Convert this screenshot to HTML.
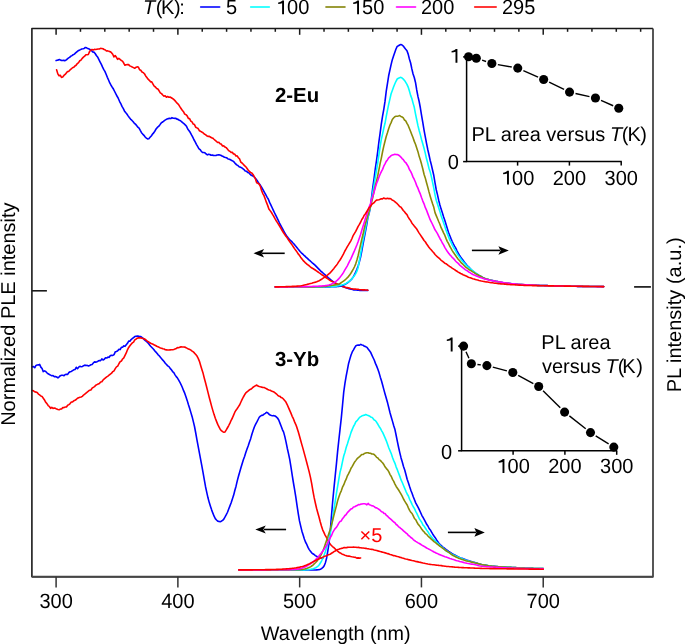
<!DOCTYPE html>
<html><head><meta charset="utf-8"><style>
html,body{margin:0;padding:0;background:#fff;width:685px;height:644px;overflow:hidden}
svg{display:block;will-change:transform;text-rendering:geometricPrecision}
.t{font-family:"Liberation Sans",sans-serif;font-size:20px;fill:#000}
.s{font-family:"Liberation Sans",sans-serif;font-size:20px;fill:#000}
.b{font-family:"Liberation Sans",sans-serif;font-size:20.4px;font-weight:bold;fill:#000}
</style></head><body>
<svg width="685" height="644" viewBox="0 0 685 644">
<path d="M56.10 60.59L57.32 60.24L58.54 59.89L59.76 59.56L60.98 60.36L62.20 60.43L63.42 60.31L64.64 60.64L65.86 60.18L67.08 59.25L68.30 58.13L69.52 57.40L70.74 56.29L71.96 55.64L73.18 54.73L74.40 54.09L75.62 52.94L76.84 51.84L78.06 50.79L79.28 50.20L80.50 49.62L81.72 48.94L82.94 48.82L84.16 48.42L85.38 47.43L86.60 47.82L87.82 48.58L89.04 48.92L90.26 49.71L91.48 50.55L92.70 51.93L93.92 52.13L95.14 53.48L96.36 55.48L97.58 56.93L98.80 59.37L100.02 61.77L101.24 64.07L102.46 66.92L103.68 69.30L104.90 71.43L106.12 74.22L107.34 77.30L108.56 80.04L109.78 82.94L111.00 85.22L112.22 87.20L113.44 89.05L114.66 91.50L115.88 93.95L117.10 96.26L118.32 98.44L119.54 101.29L120.76 103.54L121.98 106.41L123.20 108.31L124.42 110.92L125.64 112.58L126.86 114.02L128.08 115.89L129.30 117.53L130.52 119.09L131.74 120.19L132.96 121.47L134.18 123.04L135.40 124.12L136.62 125.60L137.84 127.13L139.06 128.12L140.28 130.48L141.50 132.67L142.72 134.08L143.94 135.34L145.16 137.00L146.38 138.03L147.60 138.96L148.82 138.72L150.04 137.34L151.26 135.93L152.48 134.17L153.70 132.86L154.92 131.00L156.14 128.87L157.36 127.43L158.58 126.43L159.80 124.90L161.02 123.22L162.24 122.23L163.46 121.34L164.68 120.39L165.90 119.66L167.12 118.94L168.34 118.59L169.56 118.38L170.78 118.58L172.00 117.67L173.22 118.17L174.44 118.33L175.66 118.27L176.88 119.14L178.10 119.39L179.32 120.30L180.54 120.74L181.76 121.79L182.98 122.92L184.20 123.89L185.42 125.05L186.64 126.59L187.86 129.25L189.08 130.71L190.30 132.55L191.52 134.97L192.74 137.21L193.96 139.77L195.18 141.89L196.40 144.33L197.62 146.43L198.84 148.55L200.06 149.56L201.28 151.23L202.50 152.49L203.72 152.53L204.94 152.84L206.16 154.03L207.38 154.85L208.60 154.25L209.82 154.46L211.04 155.20L212.26 155.10L213.48 155.39L214.70 155.51L215.92 155.57L217.14 154.96L218.36 154.88L219.58 154.91L220.80 155.27L222.02 156.08L223.24 156.54L224.46 157.25L225.68 157.42L226.90 157.88L228.12 159.01L229.34 159.18L230.56 159.78L231.78 160.58L233.00 161.12L234.22 162.15L235.44 163.64L236.66 164.91L237.88 165.53L239.10 166.78L240.32 167.11L241.54 167.70L242.76 168.56L243.98 169.56L245.20 170.97L246.42 171.17L247.64 172.41L248.86 172.74L250.08 174.18L251.30 175.30L252.52 175.83L253.74 176.54L254.96 177.73L256.18 179.20L257.40 180.91L258.62 183.11L259.84 184.55L261.06 186.33L262.28 188.50L263.50 190.63L264.72 192.83L265.94 195.00L267.16 197.33L268.38 199.24L269.60 202.40L270.82 204.83L272.04 207.49L273.26 210.18L274.48 212.73L275.70 215.17L276.92 217.63L278.14 220.06L279.36 222.78L280.58 225.14L281.80 227.38L283.02 229.72L284.24 232.03L285.46 234.05L286.68 236.00L287.90 237.56L289.12 239.05L290.34 240.33L291.56 241.37L292.78 242.75L294.00 243.99L295.22 245.57L296.44 247.03L297.66 248.58L298.88 249.98L300.10 251.50L301.32 252.77L302.54 253.82L303.76 255.05L304.98 256.15L306.20 257.33L307.42 258.40L308.64 259.67L309.86 260.64L311.08 261.75L312.30 262.84L313.52 263.84L314.74 264.96L315.96 266.11L317.18 267.39L318.40 268.63L319.62 269.92L320.84 271.09L322.06 272.17L323.28 273.24L324.50 274.28L325.72 275.42L326.94 276.49L328.16 277.64L329.38 278.70L330.60 279.71L331.82 280.61L333.04 281.59L334.26 282.34L335.48 283.11L336.70 283.84L337.92 284.47L339.14 285.01L340.36 285.48L341.58 286.13L342.80 286.62L344.02 287.00L345.24 287.55L346.46 287.88L347.68 288.25L348.90 288.67L350.12 288.99L351.34 289.33L352.56 289.51L353.78 289.88L355.00 289.93L356.22 290.03L357.44 290.26L358.66 290.30L359.88 290.41L361.10 290.44L362.32 290.49L363.54 290.51L364.76 290.45L365.98 290.50L367.20 290.41L367.80 290.36" fill="none" stroke="#0000ff" stroke-width="1.60" stroke-linejoin="round" stroke-linecap="round"/>
<path d="M56.60 69.79L57.82 73.88L59.04 75.80L60.26 75.26L61.48 77.36L62.70 77.07L63.92 75.45L65.14 74.40L66.36 72.91L67.58 71.56L68.80 71.35L70.02 69.89L71.24 68.97L72.46 67.79L73.68 67.33L74.90 66.04L76.12 65.24L77.34 63.58L78.56 62.65L79.78 60.77L81.00 60.08L82.22 58.36L83.44 57.19L84.66 56.24L85.88 54.76L87.10 54.76L88.32 54.44L89.54 51.59L90.76 50.16L91.98 49.45L93.20 50.03L94.42 49.33L95.64 49.50L96.86 49.22L98.08 48.96L99.30 48.96L100.52 48.39L101.74 48.45L102.96 48.75L104.18 49.54L105.40 49.98L106.62 51.05L107.84 50.88L109.06 51.38L110.28 51.77L111.50 52.65L112.72 54.21L113.94 56.88L115.16 55.58L116.38 57.26L117.60 59.30L118.82 58.44L120.04 59.35L121.26 60.52L122.48 61.13L123.70 63.02L124.92 65.27L126.14 64.77L127.36 64.65L128.58 64.58L129.80 65.88L131.02 66.38L132.24 67.06L133.46 67.64L134.68 68.28L135.90 67.37L137.12 66.91L138.34 66.96L139.56 69.67L140.78 70.24L142.00 72.04L143.22 72.64L144.44 73.74L145.66 75.95L146.88 77.57L148.10 79.20L149.32 80.28L150.54 81.86L151.76 81.81L152.98 84.02L154.20 86.16L155.42 87.02L156.64 88.47L157.86 89.02L159.08 90.80L160.30 92.85L161.52 93.62L162.74 95.03L163.96 96.16L165.18 95.81L166.40 97.21L167.62 96.55L168.84 97.17L170.06 97.03L171.28 97.72L172.50 98.50L173.72 99.37L174.94 100.62L176.16 102.10L177.38 103.45L178.60 104.55L179.82 106.65L181.04 108.50L182.26 110.29L183.48 111.72L184.70 114.06L185.92 114.63L187.14 115.82L188.36 118.41L189.58 118.63L190.80 121.12L192.02 121.89L193.24 124.09L194.46 124.55L195.68 127.18L196.90 127.86L198.12 128.53L199.34 130.71L200.56 131.32L201.78 132.05L203.00 132.72L204.22 133.96L205.44 134.67L206.66 135.71L207.88 136.33L209.10 136.27L210.32 136.98L211.54 137.72L212.76 138.12L213.98 139.25L215.20 140.26L216.42 141.41L217.64 142.49L218.86 142.34L220.08 143.77L221.30 144.11L222.52 146.01L223.74 145.88L224.96 147.06L226.18 147.61L227.40 149.00L228.62 150.63L229.84 151.27L231.06 152.39L232.28 152.28L233.50 154.06L234.72 154.09L235.94 155.97L237.16 155.92L238.38 157.76L239.60 158.92L240.82 162.09L242.04 162.99L243.26 164.33L244.48 165.63L245.70 166.65L246.92 168.33L248.14 170.07L249.36 171.51L250.58 172.43L251.80 172.92L253.02 174.39L254.24 176.63L255.46 179.00L256.68 182.82L257.90 183.31L259.12 184.02L260.34 186.34L261.56 190.42L262.78 193.56L264.00 195.64L265.22 198.99L266.44 202.43L267.66 205.38L268.88 208.93L270.10 210.62L271.32 212.28L272.54 214.35L273.76 216.29L274.98 218.64L276.20 220.73L277.42 222.58L278.64 224.51L279.86 226.53L281.08 228.54L282.30 230.77L283.52 232.71L284.74 234.49L285.96 236.34L287.18 237.82L288.40 239.73L289.62 241.52L290.84 243.17L292.06 244.87L293.28 246.73L294.50 248.61L295.72 250.22L296.94 251.88L298.16 253.87L299.38 255.29L300.60 257.16L301.82 258.71L303.04 260.40L304.26 261.59L305.48 262.99L306.70 263.99L307.92 264.82L309.14 265.75L310.36 266.79L311.58 267.76L312.80 268.44L314.02 269.22L315.24 270.01L316.46 270.94L317.68 271.77L318.90 272.62L320.12 273.36L321.34 274.39L322.56 275.24L323.78 275.83L325.00 277.00L326.22 277.74L327.44 278.56L328.66 279.34L329.88 280.40L331.10 281.09L332.32 281.60L333.54 282.06L334.76 282.89L335.98 283.34L337.20 284.00L338.42 284.94L339.64 285.47L340.86 285.87L342.08 286.20L343.30 286.73L344.52 286.85L345.74 287.42L346.96 287.64L348.18 287.87L349.40 288.11L350.62 288.54L351.84 288.72L353.06 288.92L354.28 289.15L355.50 289.14L356.72 289.23L357.94 289.28L359.16 289.51L360.38 289.70L361.60 289.71L362.82 289.87L364.04 289.79L365.26 289.92L366.48 289.97L367.70 289.98L367.80 290.27" fill="none" stroke="#ff0000" stroke-width="1.60" stroke-linejoin="round" stroke-linecap="round"/>
<path d="M32.30 366.82L33.52 366.56L34.74 367.76L35.96 365.44L37.18 365.04L38.40 364.92L39.62 364.40L40.84 367.13L42.06 368.52L43.28 371.58L44.50 370.87L45.72 371.56L46.94 372.81L48.16 373.80L49.38 374.44L50.60 375.15L51.82 375.81L53.04 375.66L54.26 376.58L55.48 376.49L56.70 377.01L57.92 377.84L59.14 376.90L60.36 375.69L61.58 375.22L62.80 375.24L64.02 375.75L65.24 374.48L66.46 374.27L67.68 374.40L68.90 372.54L70.12 371.77L71.34 371.44L72.56 370.62L73.78 369.79L75.00 369.54L76.22 367.29L77.44 368.72L78.66 367.22L79.88 366.33L81.10 366.80L82.32 366.57L83.54 365.65L84.76 365.12L85.98 365.53L87.20 365.38L88.42 365.98L89.64 365.47L90.86 364.83L92.08 364.53L93.30 362.98L94.52 361.86L95.74 362.15L96.96 361.79L98.18 361.08L99.40 360.49L100.62 360.64L101.84 358.85L103.06 359.94L104.28 359.32L105.50 357.72L106.72 358.07L107.94 357.07L109.16 357.43L110.38 355.49L111.60 355.42L112.82 355.43L114.04 354.63L115.26 351.82L116.48 351.47L117.70 350.79L118.92 349.37L120.14 349.58L121.36 347.34L122.58 347.30L123.80 345.88L125.02 346.36L126.24 344.76L127.46 343.31L128.68 341.09L129.90 341.26L131.12 339.59L132.34 338.48L133.56 337.66L134.78 336.60L136.00 336.19L137.22 336.16L138.44 336.16L139.66 336.56L140.88 336.52L142.10 337.57L143.32 338.69L144.54 339.80L145.76 340.97L146.98 341.89L148.20 343.10L149.42 344.71L150.64 346.24L151.86 347.52L153.08 348.82L154.30 350.13L155.52 351.64L156.74 352.97L157.96 354.59L159.18 355.74L160.40 357.32L161.62 358.67L162.84 360.16L164.06 361.46L165.28 363.24L166.50 364.45L167.72 365.85L168.94 366.64L170.16 368.37L171.38 369.82L172.60 371.54L173.82 372.62L175.04 374.87L176.26 376.62L177.48 378.06L178.70 380.10L179.92 382.27L181.14 384.79L182.36 387.54L183.58 390.68L184.80 393.40L186.02 396.96L187.24 400.63L188.46 404.74L189.68 408.41L190.90 412.64L192.12 416.67L193.34 421.60L194.56 426.75L195.78 433.27L197.00 440.06L198.22 446.67L199.44 453.12L200.66 459.72L201.88 466.06L203.10 472.77L204.32 479.78L205.54 486.73L206.76 492.35L207.98 497.81L209.20 502.34L210.42 506.14L211.64 509.85L212.86 513.17L214.08 516.19L215.30 518.60L216.52 519.98L217.74 521.13L218.96 521.48L220.18 521.62L221.40 521.22L222.62 520.32L223.84 519.08L225.06 516.95L226.28 514.68L227.50 512.26L228.72 509.01L229.94 505.91L231.16 502.71L232.38 499.06L233.60 495.36L234.82 490.49L236.04 486.19L237.26 480.85L238.48 476.33L239.70 472.02L240.92 467.81L242.14 463.75L243.36 459.79L244.58 456.42L245.80 452.55L247.02 449.04L248.24 445.75L249.46 442.02L250.68 438.66L251.90 434.18L253.12 430.41L254.34 427.00L255.56 424.43L256.78 422.18L258.00 419.75L259.22 417.25L260.44 416.11L261.66 415.37L262.88 415.15L264.10 414.12L265.32 413.32L266.54 412.29L267.76 412.86L268.98 414.21L270.20 414.99L271.42 415.42L272.64 415.69L273.86 415.66L275.08 416.00L276.30 416.97L277.52 418.04L278.74 419.98L279.96 423.16L281.18 426.32L282.40 429.58L283.62 432.16L284.84 436.66L286.06 442.09L287.28 448.20L288.50 453.59L289.72 459.44L290.94 466.93L292.16 474.93L293.38 482.50L294.60 489.74L295.82 497.18L297.04 505.51L298.26 513.74L299.48 520.88L300.70 526.08L301.92 531.15L303.14 535.10L304.36 539.07L305.58 542.26L306.80 544.47L308.02 547.39L309.24 549.62L310.46 551.21L311.68 552.83L312.90 553.79L314.12 554.50L315.34 555.56L316.56 556.30L317.78 556.96L319.00 557.16L320.22 557.79L321.44 558.06L322.66 557.88L323.10 557.98" fill="none" stroke="#0000ff" stroke-width="1.60" stroke-linejoin="round" stroke-linecap="round"/>
<path d="M32.30 390.50L33.52 390.85L34.74 391.80L35.96 392.13L37.18 392.46L38.40 394.08L39.62 394.86L40.84 395.97L42.06 396.42L43.28 398.22L44.50 399.97L45.72 402.31L46.94 403.66L48.16 405.52L49.38 406.50L50.60 408.40L51.82 407.33L53.04 408.35L54.26 408.07L55.48 408.35L56.70 409.09L57.92 409.56L59.14 409.77L60.36 409.08L61.58 408.91L62.80 407.45L64.02 407.66L65.24 407.03L66.46 406.99L67.68 405.21L68.90 404.59L70.12 403.55L71.34 401.97L72.56 401.85L73.78 400.79L75.00 400.27L76.22 399.53L77.44 398.25L78.66 397.66L79.88 397.27L81.10 396.98L82.32 396.34L83.54 395.07L84.76 394.17L85.98 393.12L87.20 392.14L88.42 391.20L89.64 390.22L90.86 389.93L92.08 388.21L93.30 387.33L94.52 386.63L95.74 385.31L96.96 384.64L98.18 384.00L99.40 383.47L100.62 382.00L101.84 381.77L103.06 379.99L104.28 378.83L105.50 377.84L106.72 376.81L107.94 376.07L109.16 374.99L110.38 374.06L111.60 373.17L112.82 371.57L114.04 370.82L115.26 368.67L116.48 366.87L117.70 366.17L118.92 363.76L120.14 361.66L121.36 361.05L122.58 358.98L123.80 357.85L125.02 355.35L126.24 352.94L127.46 349.81L128.68 347.48L129.90 345.76L131.12 344.18L132.34 342.85L133.56 342.08L134.78 339.86L136.00 339.23L137.22 338.18L138.44 337.88L139.66 337.73L140.88 337.88L142.10 338.21L143.32 338.43L144.54 339.08L145.76 339.73L146.98 340.93L148.20 341.68L149.42 342.48L150.64 343.29L151.86 343.82L153.08 344.34L154.30 344.92L155.52 345.50L156.74 346.27L157.96 346.82L159.18 347.35L160.40 347.95L161.62 348.22L162.84 348.80L164.06 348.94L165.28 349.74L166.50 349.85L167.72 350.02L168.94 350.07L170.16 349.91L171.38 349.76L172.60 349.82L173.82 349.48L175.04 348.90L176.26 348.49L177.48 347.59L178.70 347.72L179.92 347.12L181.14 346.88L182.36 347.06L183.58 347.07L184.80 347.08L186.02 347.67L187.24 348.34L188.46 349.03L189.68 349.38L190.90 350.14L192.12 351.13L193.34 351.94L194.56 353.15L195.78 354.57L197.00 356.11L198.22 358.43L199.44 361.33L200.66 365.41L201.88 369.52L203.10 373.35L204.32 378.21L205.54 382.78L206.76 387.44L207.98 392.40L209.20 397.25L210.42 401.73L211.64 406.35L212.86 410.64L214.08 414.61L215.30 418.28L216.52 421.34L217.74 424.41L218.96 426.82L220.18 429.13L221.40 430.63L222.62 431.61L223.84 432.22L225.06 431.92L226.28 429.95L227.50 427.74L228.72 425.51L229.94 423.07L231.16 420.28L232.38 418.00L233.60 415.16L234.82 412.21L236.04 410.19L237.26 408.51L238.48 406.66L239.70 404.76L240.92 402.00L242.14 399.44L243.36 397.00L244.58 394.76L245.80 392.98L247.02 391.96L248.24 390.94L249.46 389.83L250.68 389.33L251.90 388.30L253.12 387.22L254.34 386.42L255.56 385.68L256.78 385.07L258.00 386.04L259.22 386.48L260.44 386.84L261.66 387.15L262.88 387.45L264.10 387.45L265.32 388.10L266.54 388.77L267.76 389.53L268.98 389.95L270.20 390.33L271.42 390.93L272.64 391.39L273.86 391.93L275.08 392.81L276.30 393.77L277.52 395.05L278.74 396.06L279.96 396.37L281.18 397.57L282.40 397.94L283.62 399.24L284.84 400.65L286.06 402.34L287.28 404.77L288.50 407.57L289.72 410.43L290.94 413.14L292.16 416.30L293.38 418.73L294.60 421.86L295.82 424.55L297.04 427.89L298.26 431.79L299.48 435.94L300.70 440.50L301.92 444.90L303.14 449.12L304.36 453.60L305.58 458.10L306.80 462.77L308.02 467.41L309.24 472.13L310.46 477.35L311.68 483.67L312.90 490.96L314.12 497.45L315.34 503.00L316.56 508.26L317.78 512.81L319.00 517.03L320.22 521.75L321.44 525.98L322.66 529.86L323.88 532.38L325.10 535.07L326.32 537.15L327.54 539.72L328.76 542.05L329.98 543.89L331.20 545.27L332.42 546.55L333.64 547.42L334.86 548.56L336.08 549.72L337.30 550.89L338.52 551.85L339.74 552.81L340.96 553.27L342.18 554.17L343.40 554.49L344.62 555.17L345.84 555.47L347.06 556.01L348.28 556.09L349.50 556.17L350.72 556.58L351.94 556.82L353.16 557.00L354.38 557.25L355.60 557.36L356.82 558.10L358.04 557.87L359.26 558.13L360.48 557.92L360.60 557.94" fill="none" stroke="#ff0000" stroke-width="1.60" stroke-linejoin="round" stroke-linecap="round"/>
<path d="M275.20 286.90L276.42 286.90L277.64 286.90L278.86 286.90L280.08 286.90L281.30 286.90L282.52 286.90L283.74 286.90L284.96 286.90L286.18 286.90L287.40 286.90L288.62 286.90L289.84 286.90L291.06 286.90L292.28 286.90L293.50 286.90L294.72 286.90L295.94 286.90L297.16 286.90L298.38 286.90L299.60 286.90L300.82 286.90L302.04 286.90L303.26 286.90L304.48 286.90L305.70 286.90L306.92 286.90L308.14 286.90L309.36 286.90L310.58 286.90L311.80 286.90L313.02 286.90L314.24 286.90L315.46 286.90L316.68 286.90L317.90 286.90L319.12 286.90L320.34 286.90L321.56 286.90L322.78 286.89L324.00 286.89L325.22 286.88L326.44 286.87L327.66 286.86L328.88 286.84L330.10 286.83L331.32 286.81L332.54 286.79L333.76 286.75L334.98 286.70L336.20 286.63L337.42 286.55L338.64 286.43L339.86 286.23L341.08 285.95L342.30 285.60L343.52 285.14L344.74 284.54L345.96 283.81L347.18 283.01L348.40 282.07L349.62 281.13L350.84 280.01L352.06 278.68L353.28 276.84L354.50 274.53L355.72 272.16L356.94 269.27L358.16 266.01L359.38 261.82L360.60 257.04L361.82 250.77L363.04 244.13L364.26 237.84L365.48 231.46L366.70 224.83L367.92 217.40L369.14 213.37L370.36 207.14L371.58 197.27L372.80 187.44L374.02 178.87L375.24 169.10L376.46 160.81L377.68 151.91L378.90 141.76L380.12 133.05L381.34 123.82L382.56 116.16L383.78 109.34L385.00 101.40L386.22 91.44L387.44 83.56L388.66 75.78L389.88 70.16L391.10 64.63L392.32 59.65L393.54 56.07L394.76 52.56L395.98 48.99L397.20 46.38L398.42 45.74L399.64 45.02L400.86 44.58L402.08 45.00L403.30 46.06L404.52 47.66L405.74 49.24L406.96 50.66L408.18 54.12L409.40 58.95L410.62 62.97L411.84 68.93L413.06 73.94L414.28 77.50L415.50 82.45L416.72 89.99L417.94 96.39L419.16 101.48L420.38 108.02L421.60 115.52L422.82 122.71L424.04 130.14L425.26 136.71L426.48 143.07L427.70 149.21L428.92 154.48L430.14 160.19L431.36 164.88L432.58 170.24L433.80 175.54L435.02 182.97L436.24 189.75L437.46 194.65L438.68 200.25L439.90 204.93L441.12 209.12L442.34 212.77L443.56 216.76L444.78 220.35L446.00 224.23L447.22 228.35L448.44 232.20L449.66 235.29L450.88 238.40L452.10 241.26L453.32 243.89L454.54 246.15L455.76 248.14L456.98 250.78L458.20 253.05L459.42 255.26L460.64 257.05L461.86 258.62L463.08 260.26L464.30 262.16L465.52 263.48L466.74 265.02L467.96 266.43L469.18 267.48L470.40 268.87L471.62 270.07L472.84 271.18L474.06 272.16L475.28 273.05L476.50 273.88L477.72 274.56L478.94 275.37L480.16 276.03L481.38 276.74L482.60 277.35L483.82 277.98L485.04 278.49L486.26 278.90L487.48 279.27L488.70 279.60L489.92 279.89L491.14 280.19L492.36 280.46L493.58 280.76L494.80 281.03L496.02 281.32L497.24 281.53L498.46 281.85L499.68 282.04L500.90 282.27L502.12 282.48L503.34 282.68L504.56 282.88L505.78 283.05L507.00 283.21L508.22 283.37L509.44 283.56L510.66 283.67L511.88 283.79L513.10 283.93L514.32 284.03L515.54 284.19L516.76 284.25L517.98 284.37L519.20 284.46L520.42 284.51L521.64 284.60L522.86 284.68L524.08 284.74L525.30 284.80L526.52 284.87L527.74 284.92L528.96 284.98L530.18 285.04L531.40 285.10L532.62 285.14L533.84 285.21L535.06 285.25L536.28 285.29L537.50 285.35L538.72 285.40L539.94 285.44L541.16 285.47L542.38 285.52L543.60 285.55L544.82 285.59L546.04 285.63L547.26 285.65L548.48 285.70L549.70 285.73L550.92 285.76L552.14 285.78L553.36 285.81L554.58 285.84L555.80 285.88L557.02 285.91L558.24 285.93L559.46 285.97L560.68 285.99L561.90 286.01L563.12 286.04L564.34 286.07L565.56 286.09L566.78 286.12L568.00 286.15L569.22 286.17L570.44 286.19L571.66 286.22L572.88 286.25L574.10 286.27L575.32 286.30L576.54 286.32L577.76 286.34L578.98 286.36L580.20 286.38L581.42 286.40L582.64 286.42L583.86 286.44L585.08 286.46L586.30 286.48L587.52 286.49L588.74 286.50L589.96 286.52L591.18 286.53L592.40 286.54L593.62 286.55L594.84 286.56L596.06 286.57L597.28 286.58L598.50 286.58L599.72 286.59L600.94 286.60L602.16 286.60L603.38 286.60L603.70 286.60" fill="none" stroke="#0000ff" stroke-width="1.60" stroke-linejoin="round" stroke-linecap="round"/>
<path d="M275.20 286.90L276.42 286.90L277.64 286.90L278.86 286.90L280.08 286.90L281.30 286.90L282.52 286.90L283.74 286.90L284.96 286.90L286.18 286.90L287.40 286.90L288.62 286.90L289.84 286.90L291.06 286.90L292.28 286.89L293.50 286.89L294.72 286.89L295.94 286.89L297.16 286.89L298.38 286.89L299.60 286.89L300.82 286.88L302.04 286.88L303.26 286.88L304.48 286.88L305.70 286.88L306.92 286.87L308.14 286.87L309.36 286.87L310.58 286.87L311.80 286.86L313.02 286.86L314.24 286.86L315.46 286.85L316.68 286.85L317.90 286.85L319.12 286.84L320.34 286.84L321.56 286.83L322.78 286.83L324.00 286.83L325.22 286.82L326.44 286.82L327.66 286.81L328.88 286.81L330.10 286.80L331.32 286.76L332.54 286.67L333.76 286.53L334.98 286.37L336.20 286.18L337.42 285.97L338.64 285.76L339.86 285.50L341.08 285.20L342.30 284.84L343.52 284.41L344.74 283.94L345.96 283.40L347.18 282.73L348.40 281.83L349.62 280.86L350.84 279.82L352.06 278.54L353.28 277.08L354.50 275.45L355.72 273.61L356.94 271.16L358.16 267.20L359.38 260.71L360.60 254.08L361.82 246.96L363.04 240.46L364.26 234.41L365.48 228.29L366.70 221.80L367.92 216.99L369.14 212.46L370.36 207.17L371.58 200.18L372.80 192.50L374.02 185.20L375.24 177.84L376.46 170.60L377.68 163.33L378.90 154.90L380.12 146.56L381.34 139.42L382.56 134.13L383.78 128.26L385.00 123.29L386.22 116.72L387.44 110.28L388.66 104.38L389.88 99.11L391.10 93.80L392.32 90.53L393.54 87.06L394.76 84.00L395.98 81.29L397.20 79.00L398.42 78.27L399.64 77.74L400.86 77.32L402.08 78.03L403.30 79.15L404.52 80.45L405.74 82.43L406.96 84.35L408.18 87.08L409.40 91.10L410.62 95.35L411.84 98.53L413.06 103.09L414.28 107.28L415.50 113.80L416.72 119.77L417.94 125.65L419.16 130.51L420.38 134.86L421.60 139.70L422.82 144.02L424.04 148.32L425.26 153.10L426.48 158.58L427.70 162.97L428.92 168.17L430.14 171.68L431.36 176.65L432.58 182.42L433.80 188.17L435.02 194.82L436.24 200.26L437.46 203.87L438.68 207.75L439.90 211.40L441.12 215.67L442.34 219.30L443.56 222.75L444.78 226.17L446.00 229.95L447.22 233.39L448.44 236.37L449.66 239.79L450.88 241.92L452.10 244.56L453.32 247.01L454.54 249.17L455.76 251.04L456.98 253.31L458.20 255.34L459.42 257.06L460.64 258.72L461.86 260.39L463.08 261.83L464.30 263.06L465.52 264.49L466.74 265.86L467.96 266.74L469.18 267.93L470.40 268.90L471.62 269.84L472.84 270.79L474.06 271.81L475.28 272.75L476.50 273.65L477.72 274.39L478.94 275.25L480.16 276.00L481.38 276.73L482.60 277.37L483.82 277.97L485.04 278.50L486.26 278.92L487.48 279.23L488.70 279.60L489.92 279.88L491.14 280.12L492.36 280.42L493.58 280.81L494.80 281.00L496.02 281.24L497.24 281.55L498.46 281.86L499.68 282.06L500.90 282.29L502.12 282.48L503.34 282.69L504.56 282.90L505.78 283.07L507.00 283.23L508.22 283.40L509.44 283.55L510.66 283.67L511.88 283.81L513.10 283.93L514.32 284.04L515.54 284.18L516.76 284.27L517.98 284.36L519.20 284.43L520.42 284.51L521.64 284.61L522.86 284.65L524.08 284.74L525.30 284.79L526.52 284.86L527.74 284.93L528.96 284.97L530.18 285.03L531.40 285.09L532.62 285.15L533.84 285.20L535.06 285.25L536.28 285.30L537.50 285.36L538.72 285.39L539.94 285.43L541.16 285.48L542.38 285.52L543.60 285.56L544.82 285.61L546.04 285.63L547.26 285.67L548.48 285.69L549.70 285.73L550.92 285.76L552.14 285.80L553.36 285.82L554.58 285.85L555.80 285.89L557.02 285.90L558.24 285.94L559.46 285.97L560.68 285.99L561.90 286.01L563.12 286.04L564.34 286.07L565.56 286.10L566.78 286.11L568.00 286.15L569.22 286.17L570.44 286.20L571.66 286.22L572.88 286.25L574.10 286.27L575.32 286.30L576.54 286.32L577.76 286.34L578.98 286.35L580.20 286.38L581.42 286.40L582.64 286.42L583.86 286.44L585.08 286.45L586.30 286.48L587.52 286.49L588.74 286.50L589.96 286.51L591.18 286.53L592.40 286.54L593.62 286.55L594.84 286.56L596.06 286.57L597.28 286.58L598.50 286.58L599.72 286.59L600.94 286.60L602.16 286.60L603.38 286.60L603.70 286.60" fill="none" stroke="#00ffff" stroke-width="1.60" stroke-linejoin="round" stroke-linecap="round"/>
<path d="M275.20 286.90L276.42 286.90L277.64 286.90L278.86 286.90L280.08 286.90L281.30 286.90L282.52 286.90L283.74 286.90L284.96 286.90L286.18 286.90L287.40 286.90L288.62 286.89L289.84 286.89L291.06 286.89L292.28 286.89L293.50 286.89L294.72 286.89L295.94 286.88L297.16 286.88L298.38 286.88L299.60 286.88L300.82 286.87L302.04 286.87L303.26 286.87L304.48 286.86L305.70 286.86L306.92 286.86L308.14 286.85L309.36 286.85L310.58 286.84L311.80 286.84L313.02 286.83L314.24 286.83L315.46 286.82L316.68 286.82L317.90 286.81L319.12 286.81L320.34 286.80L321.56 286.75L322.78 286.66L324.00 286.52L325.22 286.37L326.44 286.19L327.66 286.01L328.88 285.81L330.10 285.63L331.32 285.46L332.54 285.28L333.76 285.10L334.98 284.91L336.20 284.65L337.42 284.38L338.64 284.02L339.86 283.50L341.08 282.76L342.30 281.92L343.52 281.02L344.74 280.14L345.96 279.04L347.18 277.89L348.40 276.58L349.62 275.13L350.84 273.26L352.06 271.23L353.28 269.14L354.50 266.75L355.72 263.85L356.94 259.99L358.16 255.49L359.38 250.03L360.60 244.61L361.82 239.20L363.04 234.31L364.26 228.44L365.48 223.35L366.70 219.51L367.92 215.29L369.14 211.24L370.36 206.81L371.58 202.30L372.80 197.37L374.02 191.34L375.24 185.92L376.46 181.37L377.68 176.19L378.90 169.90L380.12 163.67L381.34 158.12L382.56 151.75L383.78 146.14L385.00 141.29L386.22 136.44L387.44 132.80L388.66 128.65L389.88 125.23L391.10 122.60L392.32 119.47L393.54 117.99L394.76 116.76L395.98 116.26L397.20 116.24L398.42 115.94L399.64 115.60L400.86 116.46L402.08 116.93L403.30 117.91L404.52 120.03L405.74 120.85L406.96 123.43L408.18 125.45L409.40 128.53L410.62 131.44L411.84 134.68L413.06 137.79L414.28 141.38L415.50 144.22L416.72 147.95L417.94 151.66L419.16 156.36L420.38 160.05L421.60 164.33L422.82 169.04L424.04 174.30L425.26 177.90L426.48 182.53L427.70 186.90L428.92 191.64L430.14 195.97L431.36 200.02L432.58 203.85L433.80 207.33L435.02 212.65L436.24 215.58L437.46 218.52L438.68 221.49L439.90 224.28L441.12 227.65L442.34 230.08L443.56 232.92L444.78 235.17L446.00 238.36L447.22 241.34L448.44 243.35L449.66 245.99L450.88 248.06L452.10 250.35L453.32 252.31L454.54 254.02L455.76 255.73L456.98 257.60L458.20 259.20L459.42 260.59L460.64 262.11L461.86 263.40L463.08 264.47L464.30 265.70L465.52 267.07L466.74 267.85L467.96 268.72L469.18 269.82L470.40 270.40L471.62 271.05L472.84 271.86L474.06 272.63L475.28 273.45L476.50 274.17L477.72 274.63L478.94 275.47L480.16 275.98L481.38 276.71L482.60 277.36L483.82 277.95L485.04 278.46L486.26 278.89L487.48 279.22L488.70 279.61L489.92 279.94L491.14 280.22L492.36 280.56L493.58 280.78L494.80 281.05L496.02 281.35L497.24 281.58L498.46 281.79L499.68 282.01L500.90 282.31L502.12 282.50L503.34 282.71L504.56 282.87L505.78 283.07L507.00 283.26L508.22 283.39L509.44 283.52L510.66 283.67L511.88 283.83L513.10 283.91L514.32 284.01L515.54 284.13L516.76 284.25L517.98 284.37L519.20 284.45L520.42 284.52L521.64 284.58L522.86 284.66L524.08 284.73L525.30 284.79L526.52 284.86L527.74 284.91L528.96 285.00L530.18 285.02L531.40 285.09L532.62 285.14L533.84 285.20L535.06 285.25L536.28 285.30L537.50 285.35L538.72 285.39L539.94 285.44L541.16 285.47L542.38 285.52L543.60 285.56L544.82 285.60L546.04 285.64L547.26 285.67L548.48 285.71L549.70 285.72L550.92 285.76L552.14 285.80L553.36 285.81L554.58 285.85L555.80 285.89L557.02 285.91L558.24 285.93L559.46 285.96L560.68 285.99L561.90 286.02L563.12 286.04L564.34 286.07L565.56 286.09L566.78 286.12L568.00 286.14L569.22 286.18L570.44 286.20L571.66 286.22L572.88 286.25L574.10 286.27L575.32 286.29L576.54 286.32L577.76 286.34L578.98 286.36L580.20 286.38L581.42 286.40L582.64 286.42L583.86 286.43L585.08 286.45L586.30 286.47L587.52 286.49L588.74 286.50L589.96 286.52L591.18 286.53L592.40 286.54L593.62 286.55L594.84 286.56L596.06 286.57L597.28 286.58L598.50 286.59L599.72 286.59L600.94 286.60L602.16 286.59L603.38 286.60L603.70 286.60" fill="none" stroke="#8a8a08" stroke-width="1.60" stroke-linejoin="round" stroke-linecap="round"/>
<path d="M275.20 286.90L276.42 286.90L277.64 286.90L278.86 286.89L280.08 286.89L281.30 286.88L282.52 286.88L283.74 286.87L284.96 286.86L286.18 286.85L287.40 286.84L288.62 286.83L289.84 286.82L291.06 286.81L292.28 286.79L293.50 286.78L294.72 286.77L295.94 286.75L297.16 286.73L298.38 286.72L299.60 286.71L300.82 286.69L302.04 286.67L303.26 286.65L304.48 286.63L305.70 286.61L306.92 286.58L308.14 286.55L309.36 286.52L310.58 286.48L311.80 286.45L313.02 286.41L314.24 286.36L315.46 286.32L316.68 286.26L317.90 286.22L319.12 286.15L320.34 286.10L321.56 286.01L322.78 285.92L324.00 285.77L325.22 285.63L326.44 285.44L327.66 285.21L328.88 284.97L330.10 284.60L331.32 284.13L332.54 283.58L333.76 282.92L334.98 282.19L336.20 281.18L337.42 280.09L338.64 278.84L339.86 277.53L341.08 275.88L342.30 274.20L343.52 272.35L344.74 270.21L345.96 268.12L347.18 266.04L348.40 263.54L349.62 261.08L350.84 258.83L352.06 256.14L353.28 253.34L354.50 250.61L355.72 247.69L356.94 244.77L358.16 241.55L359.38 238.10L360.60 234.58L361.82 230.18L363.04 226.35L364.26 222.42L365.48 218.19L366.70 214.54L367.92 211.03L369.14 207.08L370.36 203.93L371.58 199.59L372.80 196.15L374.02 192.19L375.24 187.79L376.46 183.67L377.68 180.74L378.90 177.21L380.12 174.24L381.34 171.69L382.56 169.34L383.78 166.20L385.00 163.85L386.22 161.36L387.44 159.91L388.66 157.89L389.88 156.96L391.10 155.62L392.32 155.06L393.54 154.65L394.76 154.27L395.98 154.49L397.20 154.60L398.42 155.00L399.64 155.94L400.86 157.03L402.08 158.59L403.30 159.68L404.52 161.55L405.74 162.54L406.96 164.49L408.18 166.37L409.40 169.55L410.62 171.44L411.84 173.94L413.06 177.12L414.28 179.48L415.50 182.27L416.72 185.63L417.94 188.15L419.16 191.43L420.38 194.18L421.60 197.79L422.82 201.08L424.04 203.81L425.26 207.42L426.48 210.09L427.70 213.39L428.92 216.51L430.14 219.69L431.36 222.01L432.58 224.52L433.80 227.17L435.02 229.81L436.24 231.63L437.46 233.60L438.68 236.07L439.90 238.47L441.12 240.51L442.34 243.02L443.56 244.86L444.78 247.37L446.00 249.41L447.22 251.36L448.44 252.96L449.66 254.57L450.88 255.73L452.10 257.36L453.32 258.35L454.54 259.75L455.76 261.22L456.98 262.45L458.20 263.37L459.42 264.84L460.64 265.83L461.86 266.83L463.08 267.92L464.30 268.85L465.52 269.85L466.74 270.49L467.96 271.43L469.18 272.27L470.40 272.91L471.62 273.79L472.84 274.46L474.06 274.90L475.28 275.52L476.50 276.01L477.72 276.54L478.94 276.96L480.16 277.48L481.38 277.81L482.60 278.32L483.82 278.66L485.04 279.10L486.26 279.28L487.48 279.64L488.70 279.89L489.92 280.19L491.14 280.45L492.36 280.64L493.58 280.84L494.80 281.05L496.02 281.33L497.24 281.57L498.46 281.79L499.68 281.97L500.90 282.16L502.12 282.37L503.34 282.53L504.56 282.71L505.78 282.92L507.00 283.06L508.22 283.22L509.44 283.36L510.66 283.54L511.88 283.68L513.10 283.78L514.32 283.91L515.54 284.03L516.76 284.17L517.98 284.27L519.20 284.34L520.42 284.46L521.64 284.50L522.86 284.57L524.08 284.63L525.30 284.72L526.52 284.79L527.74 284.85L528.96 284.93L530.18 285.00L531.40 285.04L532.62 285.11L533.84 285.17L535.06 285.22L536.28 285.26L537.50 285.32L538.72 285.37L539.94 285.43L541.16 285.46L542.38 285.49L543.60 285.55L544.82 285.59L546.04 285.62L547.26 285.66L548.48 285.70L549.70 285.74L550.92 285.76L552.14 285.79L553.36 285.82L554.58 285.85L555.80 285.88L557.02 285.91L558.24 285.94L559.46 285.97L560.68 285.99L561.90 286.02L563.12 286.05L564.34 286.07L565.56 286.10L566.78 286.13L568.00 286.15L569.22 286.18L570.44 286.21L571.66 286.23L572.88 286.25L574.10 286.29L575.32 286.30L576.54 286.33L577.76 286.35L578.98 286.37L580.20 286.39L581.42 286.41L582.64 286.43L583.86 286.45L585.08 286.46L586.30 286.48L587.52 286.50L588.74 286.51L589.96 286.52L591.18 286.54L592.40 286.54L593.62 286.56L594.84 286.56L596.06 286.58L597.28 286.58L598.50 286.59L599.72 286.59L600.94 286.60L602.16 286.60L603.38 286.60L603.70 286.60" fill="none" stroke="#ff00ff" stroke-width="1.60" stroke-linejoin="round" stroke-linecap="round"/>
<path d="M275.20 286.90L276.42 286.89L277.64 286.87L278.86 286.85L280.08 286.82L281.30 286.79L282.52 286.76L283.74 286.72L284.96 286.68L286.18 286.64L287.40 286.60L288.62 286.55L289.84 286.51L291.06 286.46L292.28 286.41L293.50 286.36L294.72 286.29L295.94 286.23L297.16 286.14L298.38 286.04L299.60 285.93L300.82 285.79L302.04 285.58L303.26 285.31L304.48 285.01L305.70 284.69L306.92 284.41L308.14 284.11L309.36 283.82L310.58 283.48L311.80 283.20L313.02 282.82L314.24 282.48L315.46 282.12L316.68 281.70L317.90 281.19L319.12 280.72L320.34 280.04L321.56 279.29L322.78 278.44L324.00 277.56L325.22 276.71L326.44 275.88L327.66 274.94L328.88 273.84L330.10 272.86L331.32 271.45L332.54 270.11L333.76 268.64L334.98 266.95L336.20 265.59L337.42 263.87L338.64 261.88L339.86 260.22L341.08 258.24L342.30 256.13L343.52 253.95L344.74 251.23L345.96 249.14L347.18 246.89L348.40 244.92L349.62 242.82L350.84 240.81L352.06 238.25L353.28 235.30L354.50 233.34L355.72 231.38L356.94 228.94L358.16 226.33L359.38 224.39L360.60 222.25L361.82 219.54L363.04 217.74L364.26 215.19L365.48 213.75L366.70 211.77L367.92 209.72L369.14 207.67L370.36 206.54L371.58 204.82L372.80 203.48L374.02 202.81L375.24 201.22L376.46 200.10L377.68 199.99L378.90 199.76L380.12 199.28L381.34 198.73L382.56 198.86L383.78 197.94L385.00 198.66L386.22 198.75L387.44 198.19L388.66 198.65L389.88 198.48L391.10 199.04L392.32 200.19L393.54 200.44L394.76 201.69L395.98 202.72L397.20 203.69L398.42 205.02L399.64 206.43L400.86 207.10L402.08 208.70L403.30 210.52L404.52 211.77L405.74 213.43L406.96 214.56L408.18 217.08L409.40 219.00L410.62 220.63L411.84 222.98L413.06 224.61L414.28 226.11L415.50 227.53L416.72 229.00L417.94 231.11L419.16 233.12L420.38 234.89L421.60 236.68L422.82 238.48L424.04 240.52L425.26 241.71L426.48 243.72L427.70 245.46L428.92 247.18L430.14 248.73L431.36 250.07L432.58 251.47L433.80 252.77L435.02 254.52L436.24 255.73L437.46 256.89L438.68 257.91L439.90 258.96L441.12 260.31L442.34 261.13L443.56 262.12L444.78 263.17L446.00 263.66L447.22 264.61L448.44 265.57L449.66 266.43L450.88 267.11L452.10 268.05L453.32 268.84L454.54 269.65L455.76 270.52L456.98 271.27L458.20 272.09L459.42 272.76L460.64 273.50L461.86 274.00L463.08 274.71L464.30 275.20L465.52 275.75L466.74 276.31L467.96 276.93L469.18 277.40L470.40 277.77L471.62 278.33L472.84 278.72L474.06 279.06L475.28 279.43L476.50 279.78L477.72 280.06L478.94 280.48L480.16 280.68L481.38 280.96L482.60 281.21L483.82 281.44L485.04 281.66L486.26 281.91L487.48 282.07L488.70 282.28L489.92 282.47L491.14 282.69L492.36 282.83L493.58 282.99L494.80 283.17L496.02 283.29L497.24 283.45L498.46 283.61L499.68 283.73L500.90 283.85L502.12 283.99L503.34 284.07L504.56 284.17L505.78 284.25L507.00 284.36L508.22 284.45L509.44 284.51L510.66 284.61L511.88 284.67L513.10 284.73L514.32 284.78L515.54 284.86L516.76 284.93L517.98 284.98L519.20 285.08L520.42 285.16L521.64 285.23L522.86 285.31L524.08 285.38L525.30 285.41L526.52 285.44L527.74 285.48L528.96 285.52L530.18 285.53L531.40 285.57L532.62 285.59L533.84 285.62L535.06 285.65L536.28 285.65L537.50 285.69L538.72 285.70L539.94 285.72L541.16 285.73L542.38 285.76L543.60 285.77L544.82 285.77L546.04 285.80L547.26 285.82L548.48 285.83L549.70 285.85L550.92 285.87L552.14 285.90L553.36 285.92L554.58 285.93L555.80 285.96L557.02 285.98L558.24 285.99L559.46 286.00L560.68 286.03L561.90 286.05L563.12 286.06L564.34 286.08L565.56 286.11L566.78 286.12L568.00 286.14L569.22 286.16L570.44 286.17L571.66 286.19L572.88 286.21L574.10 286.23L575.32 286.24L576.54 286.26L577.76 286.28L578.98 286.30L580.20 286.31L581.42 286.32L582.64 286.34L583.86 286.36L585.08 286.38L586.30 286.39L587.52 286.40L588.74 286.42L589.96 286.44L591.18 286.45L592.40 286.48L593.62 286.48L594.84 286.50L596.06 286.51L597.28 286.53L598.50 286.54L599.72 286.56L600.94 286.57L602.16 286.58L603.38 286.59L603.70 286.60" fill="none" stroke="#ff0000" stroke-width="1.60" stroke-linejoin="round" stroke-linecap="round"/>
<path d="M238.80 569.90L240.02 569.90L241.24 569.91L242.46 569.91L243.68 569.91L244.90 569.92L246.12 569.92L247.34 569.92L248.56 569.93L249.78 569.93L251.00 569.93L252.22 569.94L253.44 569.94L254.66 569.94L255.88 569.95L257.10 569.95L258.32 569.95L259.54 569.95L260.76 569.96L261.98 569.96L263.20 569.96L264.42 569.96L265.64 569.97L266.86 569.97L268.08 569.97L269.30 569.97L270.52 569.97L271.74 569.98L272.96 569.98L274.18 569.98L275.40 569.98L276.62 569.98L277.84 569.99L279.06 569.99L280.28 569.99L281.50 569.99L282.72 569.99L283.94 569.99L285.16 569.99L286.38 569.99L287.60 570.00L288.82 570.00L290.04 570.00L291.26 570.00L292.48 570.00L293.70 570.00L294.92 570.00L296.14 570.00L297.36 570.00L298.58 570.00L299.80 570.00L301.02 570.00L302.24 570.00L303.46 570.00L304.68 570.00L305.90 570.00L307.12 570.00L308.34 570.00L309.56 570.00L310.78 570.00L312.00 570.00L313.22 569.99L314.44 569.97L315.66 569.94L316.88 569.88L318.10 569.82L319.32 569.63L320.54 569.14L321.76 568.45L322.98 567.46L324.20 565.79L325.42 562.67L326.64 557.96L327.86 550.52L329.08 542.64L330.30 530.56L331.52 515.40L332.74 500.71L333.96 488.13L335.18 476.09L336.40 464.06L337.62 451.42L338.84 440.01L340.06 429.11L341.28 418.04L342.50 405.34L343.72 392.15L344.94 383.38L346.16 376.15L347.38 369.81L348.60 363.45L349.82 359.15L351.04 355.07L352.26 351.92L353.48 349.92L354.70 347.69L355.92 345.74L357.14 345.33L358.36 344.97L359.58 345.20L360.80 344.38L362.02 344.98L363.24 345.30L364.46 346.29L365.68 346.63L366.90 347.33L368.12 348.91L369.34 350.52L370.56 352.18L371.78 354.91L373.00 357.52L374.22 360.02L375.44 363.39L376.66 366.15L377.88 369.32L379.10 372.86L380.32 377.14L381.54 380.94L382.76 385.45L383.98 390.14L385.20 394.55L386.42 398.73L387.64 403.09L388.86 407.96L390.08 412.94L391.30 417.29L392.52 421.39L393.74 425.70L394.96 429.54L396.18 435.53L397.40 441.71L398.62 447.48L399.84 452.85L401.06 457.91L402.28 461.96L403.50 466.45L404.72 470.05L405.94 474.47L407.16 479.28L408.38 482.66L409.60 486.59L410.82 490.21L412.04 493.19L413.26 496.74L414.48 499.75L415.70 502.84L416.92 505.14L418.14 507.36L419.36 509.92L420.58 512.53L421.80 515.28L423.02 517.46L424.24 519.67L425.46 521.91L426.68 524.31L427.90 526.00L429.12 528.48L430.34 529.93L431.56 532.04L432.78 534.23L434.00 536.04L435.22 537.67L436.44 539.67L437.66 541.38L438.88 543.23L440.10 544.58L441.32 545.62L442.54 546.83L443.76 547.74L444.98 548.70L446.20 549.60L447.42 550.42L448.64 551.37L449.86 552.20L451.08 553.00L452.30 553.81L453.52 554.42L454.74 555.00L455.96 555.70L457.18 556.32L458.40 556.86L459.62 557.41L460.84 557.92L462.06 558.35L463.28 558.82L464.50 559.24L465.72 559.80L466.94 560.17L468.16 560.55L469.38 560.96L470.60 561.36L471.82 561.79L473.04 562.09L474.26 562.33L475.48 562.73L476.70 563.11L477.92 563.50L479.14 563.86L480.36 564.17L481.58 564.49L482.80 564.71L484.02 564.90L485.24 565.16L486.46 565.37L487.68 565.60L488.90 565.78L490.12 565.91L491.34 566.08L492.56 566.22L493.78 566.31L495.00 566.41L496.22 566.54L497.44 566.64L498.66 566.71L499.88 566.76L501.10 566.87L502.32 566.94L503.54 567.00L504.76 567.08L505.98 567.14L507.20 567.23L508.42 567.29L509.64 567.34L510.86 567.41L512.08 567.47L513.30 567.51L514.52 567.59L515.74 567.65L516.96 567.70L518.18 567.77L519.40 567.85L520.62 567.91L521.84 568.00L523.06 568.08L524.28 568.12L525.50 568.19L526.72 568.26L527.94 568.28L529.16 568.32L530.38 568.35L531.60 568.38L532.82 568.42L534.04 568.46L535.26 568.48L536.48 568.51L537.70 568.54L538.92 568.55L540.14 568.57L541.36 568.59L542.58 568.59L543.30 568.59" fill="none" stroke="#0000ff" stroke-width="1.60" stroke-linejoin="round" stroke-linecap="round"/>
<path d="M238.80 569.90L240.02 569.91L241.24 569.91L242.46 569.92L243.68 569.92L244.90 569.93L246.12 569.93L247.34 569.94L248.56 569.94L249.78 569.94L251.00 569.95L252.22 569.95L253.44 569.96L254.66 569.96L255.88 569.96L257.10 569.97L258.32 569.97L259.54 569.97L260.76 569.97L261.98 569.98L263.20 569.98L264.42 569.98L265.64 569.98L266.86 569.98L268.08 569.99L269.30 569.99L270.52 569.99L271.74 569.99L272.96 569.99L274.18 569.99L275.40 569.99L276.62 569.99L277.84 570.00L279.06 570.00L280.28 570.00L281.50 570.00L282.72 570.00L283.94 570.00L285.16 570.00L286.38 570.00L287.60 570.00L288.82 570.00L290.04 570.00L291.26 570.00L292.48 570.00L293.70 570.00L294.92 570.00L296.14 570.00L297.36 570.00L298.58 570.00L299.80 570.00L301.02 569.99L302.24 569.97L303.46 569.92L304.68 569.87L305.90 569.81L307.12 569.72L308.34 569.59L309.56 569.43L310.78 569.23L312.00 568.97L313.22 568.69L314.44 568.30L315.66 567.72L316.88 566.96L318.10 566.04L319.32 564.74L320.54 562.76L321.76 560.53L322.98 557.94L324.20 554.83L325.42 551.43L326.64 547.54L327.86 543.73L329.08 539.18L330.30 533.47L331.52 526.66L332.74 518.22L333.96 509.16L335.18 501.56L336.40 493.70L337.62 486.34L338.84 479.12L340.06 472.10L341.28 467.51L342.50 461.63L343.72 455.97L344.94 452.21L346.16 447.60L347.38 444.07L348.60 439.97L349.82 436.38L351.04 432.39L352.26 429.33L353.48 426.50L354.70 424.36L355.92 421.57L357.14 420.64L358.36 418.99L359.58 417.37L360.80 416.61L362.02 415.82L363.24 415.39L364.46 415.21L365.68 414.51L366.90 415.00L368.12 415.41L369.34 415.89L370.56 416.90L371.78 417.27L373.00 418.42L374.22 419.98L375.44 420.64L376.66 422.31L377.88 424.28L379.10 426.48L380.32 428.18L381.54 430.56L382.76 432.57L383.98 435.39L385.20 438.14L386.42 441.07L387.64 444.43L388.86 447.98L390.08 450.83L391.30 453.73L392.52 457.42L393.74 460.62L394.96 463.37L396.18 467.07L397.40 469.93L398.62 473.24L399.84 476.37L401.06 479.96L402.28 482.49L403.50 485.50L404.72 488.38L405.94 491.30L407.16 494.01L408.38 496.02L409.60 499.31L410.82 501.59L412.04 504.35L413.26 506.75L414.48 508.70L415.70 511.32L416.92 513.69L418.14 516.27L419.36 518.90L420.58 520.64L421.80 522.50L423.02 525.16L424.24 526.25L425.46 528.29L426.68 530.12L427.90 531.71L429.12 533.89L430.34 535.63L431.56 537.00L432.78 538.43L434.00 539.70L435.22 540.69L436.44 542.15L437.66 543.09L438.88 544.25L440.10 545.55L441.32 546.73L442.54 547.63L443.76 548.90L444.98 549.96L446.20 550.73L447.42 551.54L448.64 552.34L449.86 553.02L451.08 553.68L452.30 554.45L453.52 555.08L454.74 555.59L455.96 556.18L457.18 556.72L458.40 557.26L459.62 557.75L460.84 558.22L462.06 558.83L463.28 559.21L464.50 559.66L465.72 560.16L466.94 560.45L468.16 560.87L469.38 561.16L470.60 561.55L471.82 561.96L473.04 562.28L474.26 562.60L475.48 562.94L476.70 563.34L477.92 563.62L479.14 563.96L480.36 564.23L481.58 564.47L482.80 564.71L484.02 564.96L485.24 565.16L486.46 565.35L487.68 565.57L488.90 565.74L490.12 565.92L491.34 566.09L492.56 566.22L493.78 566.35L495.00 566.44L496.22 566.53L497.44 566.63L498.66 566.72L499.88 566.78L501.10 566.87L502.32 566.93L503.54 567.00L504.76 567.08L505.98 567.19L507.20 567.22L508.42 567.29L509.64 567.35L510.86 567.41L512.08 567.47L513.30 567.55L514.52 567.59L515.74 567.67L516.96 567.72L518.18 567.77L519.40 567.84L520.62 567.92L521.84 567.98L523.06 568.07L524.28 568.13L525.50 568.19L526.72 568.23L527.94 568.29L529.16 568.32L530.38 568.37L531.60 568.39L532.82 568.43L534.04 568.46L535.26 568.48L536.48 568.51L537.70 568.54L538.92 568.56L540.14 568.57L541.36 568.59L542.58 568.60L543.30 568.60" fill="none" stroke="#00ffff" stroke-width="1.60" stroke-linejoin="round" stroke-linecap="round"/>
<path d="M238.80 569.90L240.02 569.90L241.24 569.90L242.46 569.90L243.68 569.90L244.90 569.90L246.12 569.90L247.34 569.90L248.56 569.90L249.78 569.90L251.00 569.90L252.22 569.90L253.44 569.90L254.66 569.90L255.88 569.89L257.10 569.89L258.32 569.89L259.54 569.89L260.76 569.89L261.98 569.89L263.20 569.89L264.42 569.89L265.64 569.88L266.86 569.88L268.08 569.88L269.30 569.88L270.52 569.88L271.74 569.87L272.96 569.87L274.18 569.87L275.40 569.87L276.62 569.86L277.84 569.86L279.06 569.86L280.28 569.85L281.50 569.85L282.72 569.85L283.94 569.84L285.16 569.84L286.38 569.83L287.60 569.83L288.82 569.83L290.04 569.82L291.26 569.82L292.48 569.81L293.70 569.81L294.92 569.80L296.14 569.78L297.36 569.74L298.58 569.68L299.80 569.61L301.02 569.51L302.24 569.40L303.46 569.24L304.68 568.97L305.90 568.63L307.12 568.21L308.34 567.75L309.56 567.22L310.78 566.60L312.00 565.77L313.22 564.82L314.44 563.71L315.66 562.50L316.88 561.21L318.10 559.60L319.32 557.89L320.54 555.76L321.76 553.46L322.98 550.78L324.20 547.41L325.42 543.87L326.64 540.38L327.86 536.72L329.08 532.77L330.30 529.46L331.52 524.77L332.74 520.07L333.96 515.11L335.18 510.32L336.40 505.85L337.62 500.70L338.84 497.11L340.06 493.51L341.28 490.81L342.50 487.13L343.72 484.92L344.94 481.69L346.16 479.18L347.38 475.80L348.60 473.69L349.82 471.10L351.04 468.21L352.26 466.35L353.48 464.11L354.70 461.96L355.92 460.37L357.14 458.69L358.36 457.64L359.58 456.71L360.80 455.42L362.02 454.43L363.24 454.49L364.46 453.43L365.68 453.07L366.90 452.75L368.12 452.69L369.34 453.26L370.56 453.31L371.78 453.95L373.00 454.04L374.22 454.57L375.44 455.72L376.66 457.36L377.88 457.92L379.10 459.60L380.32 460.37L381.54 461.77L382.76 463.00L383.98 464.81L385.20 467.03L386.42 468.59L387.64 469.88L388.86 471.89L390.08 474.58L391.30 476.47L392.52 479.42L393.74 481.31L394.96 484.12L396.18 486.49L397.40 488.25L398.62 490.03L399.84 492.08L401.06 494.19L402.28 496.42L403.50 498.99L404.72 501.16L405.94 503.14L407.16 505.05L408.38 507.83L409.60 510.42L410.82 512.21L412.04 513.50L413.26 515.92L414.48 518.53L415.70 519.71L416.92 522.01L418.14 524.25L419.36 525.62L420.58 527.39L421.80 529.18L423.02 530.82L424.24 532.06L425.46 533.64L426.68 534.37L427.90 536.00L429.12 537.09L430.34 538.14L431.56 539.34L432.78 540.38L434.00 541.63L435.22 542.43L436.44 543.50L437.66 544.32L438.88 545.33L440.10 546.37L441.32 547.13L442.54 548.09L443.76 548.91L444.98 549.85L446.20 550.74L447.42 551.64L448.64 552.22L449.86 553.22L451.08 554.14L452.30 554.98L453.52 555.74L454.74 556.26L455.96 556.95L457.18 557.58L458.40 558.13L459.62 558.59L460.84 559.06L462.06 559.49L463.28 559.85L464.50 560.28L465.72 560.67L466.94 560.95L468.16 561.32L469.38 561.43L470.60 561.80L471.82 562.15L473.04 562.38L474.26 562.68L475.48 562.92L476.70 563.20L477.92 563.56L479.14 563.95L480.36 564.16L481.58 564.45L482.80 564.67L484.02 564.93L485.24 565.15L486.46 565.38L487.68 565.55L488.90 565.79L490.12 565.94L491.34 566.07L492.56 566.20L493.78 566.31L495.00 566.45L496.22 566.57L497.44 566.63L498.66 566.70L499.88 566.80L501.10 566.86L502.32 566.93L503.54 566.99L504.76 567.09L505.98 567.18L507.20 567.24L508.42 567.30L509.64 567.35L510.86 567.42L512.08 567.48L513.30 567.53L514.52 567.59L515.74 567.65L516.96 567.73L518.18 567.77L519.40 567.86L520.62 567.93L521.84 568.00L523.06 568.07L524.28 568.12L525.50 568.18L526.72 568.24L527.94 568.28L529.16 568.31L530.38 568.35L531.60 568.39L532.82 568.42L534.04 568.46L535.26 568.48L536.48 568.52L537.70 568.55L538.92 568.57L540.14 568.58L541.36 568.59L542.58 568.60L543.30 568.61" fill="none" stroke="#8a8a08" stroke-width="1.60" stroke-linejoin="round" stroke-linecap="round"/>
<path d="M238.80 569.90L240.02 569.90L241.24 569.90L242.46 569.90L243.68 569.90L244.90 569.90L246.12 569.89L247.34 569.89L248.56 569.89L249.78 569.89L251.00 569.89L252.22 569.88L253.44 569.88L254.66 569.88L255.88 569.87L257.10 569.87L258.32 569.86L259.54 569.86L260.76 569.85L261.98 569.84L263.20 569.84L264.42 569.83L265.64 569.83L266.86 569.82L268.08 569.81L269.30 569.80L270.52 569.79L271.74 569.78L272.96 569.77L274.18 569.77L275.40 569.76L276.62 569.74L277.84 569.73L279.06 569.72L280.28 569.71L281.50 569.70L282.72 569.69L283.94 569.67L285.16 569.66L286.38 569.65L287.60 569.63L288.82 569.61L290.04 569.60L291.26 569.57L292.48 569.53L293.70 569.48L294.92 569.40L296.14 569.29L297.36 569.13L298.58 568.92L299.80 568.64L301.02 568.35L302.24 568.02L303.46 567.59L304.68 567.06L305.90 566.48L307.12 565.81L308.34 565.03L309.56 564.32L310.78 563.52L312.00 562.66L313.22 561.71L314.44 560.80L315.66 559.66L316.88 558.41L318.10 557.01L319.32 555.60L320.54 554.01L321.76 552.50L322.98 550.79L324.20 549.16L325.42 547.22L326.64 545.23L327.86 542.61L329.08 540.23L330.30 537.69L331.52 535.49L332.74 532.47L333.96 530.38L335.18 528.51L336.40 527.32L337.62 525.43L338.84 523.15L340.06 521.39L341.28 520.90L342.50 518.70L343.72 517.26L344.94 515.50L346.16 514.53L347.38 512.66L348.60 511.40L349.82 510.12L351.04 508.91L352.26 508.40L353.48 506.98L354.70 506.67L355.92 506.04L357.14 505.53L358.36 504.65L359.58 504.80L360.80 504.09L362.02 503.99L363.24 503.72L364.46 503.78L365.68 503.98L366.90 504.84L368.12 503.40L369.34 504.77L370.56 505.10L371.78 505.68L373.00 505.88L374.22 506.60L375.44 507.69L376.66 507.90L377.88 508.69L379.10 509.46L380.32 510.47L381.54 511.76L382.76 511.95L383.98 513.56L385.20 513.63L386.42 515.44L387.64 516.24L388.86 517.72L390.08 518.65L391.30 519.72L392.52 520.82L393.74 521.98L394.96 522.69L396.18 524.47L397.40 525.25L398.62 526.87L399.84 527.55L401.06 528.73L402.28 529.67L403.50 530.81L404.72 531.88L405.94 533.02L407.16 533.83L408.38 535.46L409.60 536.17L410.82 537.51L412.04 538.19L413.26 539.58L414.48 540.53L415.70 541.36L416.92 542.07L418.14 542.87L419.36 543.50L420.58 544.29L421.80 545.07L423.02 545.84L424.24 546.42L425.46 547.21L426.68 548.00L427.90 548.65L429.12 549.29L430.34 549.87L431.56 550.62L432.78 551.25L434.00 552.00L435.22 552.49L436.44 553.18L437.66 553.58L438.88 554.38L440.10 554.67L441.32 555.27L442.54 555.74L443.76 556.19L444.98 556.66L446.20 557.08L447.42 557.55L448.64 557.98L449.86 558.45L451.08 558.85L452.30 559.28L453.52 559.60L454.74 559.91L455.96 560.43L457.18 560.71L458.40 560.93L459.62 561.42L460.84 561.72L462.06 562.05L463.28 562.38L464.50 562.73L465.72 563.00L466.94 563.31L468.16 563.54L469.38 563.75L470.60 563.95L471.82 564.12L473.04 564.33L474.26 564.49L475.48 564.69L476.70 565.02L477.92 565.39L479.14 565.72L480.36 565.96L481.58 566.20L482.80 566.32L484.02 566.44L485.24 566.53L486.46 566.62L487.68 566.73L488.90 566.82L490.12 566.90L491.34 566.95L492.56 567.04L493.78 567.13L495.00 567.21L496.22 567.26L497.44 567.37L498.66 567.47L499.88 567.56L501.10 567.62L502.32 567.72L503.54 567.76L504.76 567.87L505.98 567.92L507.20 567.99L508.42 568.03L509.64 568.08L510.86 568.12L512.08 568.17L513.30 568.20L514.52 568.25L515.74 568.28L516.96 568.32L518.18 568.35L519.40 568.39L520.62 568.43L521.84 568.45L523.06 568.50L524.28 568.52L525.50 568.56L526.72 568.58L527.94 568.61L529.16 568.64L530.38 568.67L531.60 568.70L532.82 568.71L534.04 568.73L535.26 568.75L536.48 568.76L537.70 568.78L538.92 568.79L540.14 568.79L541.36 568.79L542.58 568.80L543.30 568.80" fill="none" stroke="#ff00ff" stroke-width="1.60" stroke-linejoin="round" stroke-linecap="round"/>
<path d="M238.80 569.90L240.02 569.90L241.24 569.90L242.46 569.89L243.68 569.89L244.90 569.89L246.12 569.88L247.34 569.87L248.56 569.87L249.78 569.86L251.00 569.85L252.22 569.84L253.44 569.82L254.66 569.81L255.88 569.80L257.10 569.79L258.32 569.77L259.54 569.76L260.76 569.74L261.98 569.72L263.20 569.71L264.42 569.69L265.64 569.67L266.86 569.65L268.08 569.63L269.30 569.61L270.52 569.59L271.74 569.56L272.96 569.53L274.18 569.50L275.40 569.46L276.62 569.42L277.84 569.37L279.06 569.31L280.28 569.25L281.50 569.19L282.72 569.13L283.94 569.06L285.16 569.00L286.38 568.91L287.60 568.82L288.82 568.71L290.04 568.59L291.26 568.47L292.48 568.33L293.70 568.19L294.92 568.01L296.14 567.84L297.36 567.63L298.58 567.41L299.80 567.14L301.02 566.84L302.24 566.54L303.46 566.17L304.68 565.70L305.90 565.24L307.12 564.74L308.34 564.15L309.56 563.67L310.78 563.06L312.00 562.41L313.22 561.81L314.44 561.08L315.66 560.48L316.88 559.86L318.10 559.36L319.32 558.72L320.54 558.13L321.76 557.70L322.98 557.11L324.20 556.55L325.42 556.04L326.64 555.66L327.86 555.10L329.08 554.49L330.30 554.16L331.52 553.24L332.74 552.55L333.96 551.67L335.18 550.99L336.40 550.16L337.62 549.61L338.84 549.22L340.06 548.71L341.28 548.41L342.50 548.25L343.72 547.64L344.94 547.67L346.16 547.73L347.38 547.38L348.60 547.32L349.82 547.27L351.04 547.24L352.26 547.24L353.48 547.12L354.70 547.29L355.92 547.22L357.14 547.52L358.36 547.37L359.58 547.60L360.80 547.69L362.02 547.99L363.24 548.05L364.46 548.30L365.68 548.36L366.90 548.58L368.12 548.71L369.34 549.00L370.56 549.20L371.78 549.34L373.00 549.59L374.22 550.02L375.44 550.30L376.66 550.57L377.88 550.86L379.10 551.16L380.32 551.59L381.54 551.86L382.76 552.19L383.98 552.54L385.20 552.89L386.42 553.26L387.64 553.66L388.86 553.89L390.08 554.41L391.30 554.75L392.52 555.20L393.74 555.67L394.96 555.78L396.18 556.15L397.40 556.52L398.62 556.74L399.84 557.38L401.06 557.54L402.28 558.03L403.50 558.27L404.72 558.67L405.94 558.99L407.16 559.25L408.38 559.62L409.60 559.87L410.82 560.19L412.04 560.58L413.26 560.77L414.48 561.05L415.70 561.47L416.92 561.61L418.14 561.89L419.36 562.20L420.58 562.39L421.80 562.67L423.02 563.04L424.24 563.27L425.46 563.56L426.68 563.80L427.90 564.05L429.12 564.18L430.34 564.39L431.56 564.56L432.78 564.69L434.00 564.79L435.22 564.94L436.44 565.11L437.66 565.21L438.88 565.38L440.10 565.52L441.32 565.66L442.54 565.88L443.76 566.01L444.98 566.17L446.20 566.33L447.42 566.45L448.64 566.57L449.86 566.71L451.08 566.81L452.30 566.91L453.52 567.00L454.74 567.12L455.96 567.19L457.18 567.26L458.40 567.35L459.62 567.44L460.84 567.51L462.06 567.58L463.28 567.63L464.50 567.69L465.72 567.75L466.94 567.80L468.16 567.85L469.38 567.91L470.60 567.97L471.82 568.02L473.04 568.07L474.26 568.13L475.48 568.18L476.70 568.23L477.92 568.28L479.14 568.32L480.36 568.35L481.58 568.39L482.80 568.43L484.02 568.46L485.24 568.48L486.46 568.51L487.68 568.54L488.90 568.54L490.12 568.58L491.34 568.61L492.56 568.63L493.78 568.64L495.00 568.67L496.22 568.69L497.44 568.70L498.66 568.71L499.88 568.73L501.10 568.75L502.32 568.77L503.54 568.78L504.76 568.80L505.98 568.82L507.20 568.83L508.42 568.85L509.64 568.86L510.86 568.87L512.08 568.89L513.30 568.91L514.52 568.93L515.74 568.94L516.96 568.95L518.18 568.97L519.40 568.98L520.62 568.99L521.84 569.00L523.06 569.02L524.28 569.04L525.50 569.05L526.72 569.07L527.94 569.07L529.16 569.08L530.38 569.11L531.60 569.10L532.82 569.11L534.04 569.13L535.26 569.14L536.48 569.15L537.70 569.16L538.92 569.17L540.14 569.18L541.36 569.19L542.58 569.20L543.30 569.20" fill="none" stroke="#ff0000" stroke-width="1.60" stroke-linejoin="round" stroke-linecap="round"/>
<path d="M653 576.75H31.9V28.5H653" fill="none" stroke="#1a1a1a" stroke-width="1.6" stroke-linejoin="round"/>
<path d="M653 28.5V576.75H31.9" fill="none" stroke="#454545" stroke-width="1.8" stroke-linejoin="round"/>
<line x1="56.10" y1="28.5" x2="56.10" y2="34.80" stroke="#1a1a1a" stroke-width="1.5"/>
<line x1="80.46" y1="28.5" x2="80.46" y2="31.80" stroke="#1a1a1a" stroke-width="1.5"/>
<line x1="104.81" y1="28.5" x2="104.81" y2="31.80" stroke="#1a1a1a" stroke-width="1.5"/>
<line x1="129.17" y1="28.5" x2="129.17" y2="31.80" stroke="#1a1a1a" stroke-width="1.5"/>
<line x1="153.52" y1="28.5" x2="153.52" y2="31.80" stroke="#1a1a1a" stroke-width="1.5"/>
<line x1="177.88" y1="28.5" x2="177.88" y2="34.80" stroke="#1a1a1a" stroke-width="1.5"/>
<line x1="202.24" y1="28.5" x2="202.24" y2="31.80" stroke="#1a1a1a" stroke-width="1.5"/>
<line x1="226.59" y1="28.5" x2="226.59" y2="31.80" stroke="#1a1a1a" stroke-width="1.5"/>
<line x1="250.95" y1="28.5" x2="250.95" y2="31.80" stroke="#1a1a1a" stroke-width="1.5"/>
<line x1="275.30" y1="28.5" x2="275.30" y2="31.80" stroke="#1a1a1a" stroke-width="1.5"/>
<line x1="299.66" y1="28.5" x2="299.66" y2="34.80" stroke="#1a1a1a" stroke-width="1.5"/>
<line x1="324.02" y1="28.5" x2="324.02" y2="31.80" stroke="#1a1a1a" stroke-width="1.5"/>
<line x1="348.37" y1="28.5" x2="348.37" y2="31.80" stroke="#1a1a1a" stroke-width="1.5"/>
<line x1="372.73" y1="28.5" x2="372.73" y2="31.80" stroke="#1a1a1a" stroke-width="1.5"/>
<line x1="397.08" y1="28.5" x2="397.08" y2="31.80" stroke="#1a1a1a" stroke-width="1.5"/>
<line x1="421.44" y1="28.5" x2="421.44" y2="34.80" stroke="#1a1a1a" stroke-width="1.5"/>
<line x1="445.80" y1="28.5" x2="445.80" y2="31.80" stroke="#1a1a1a" stroke-width="1.5"/>
<line x1="470.15" y1="28.5" x2="470.15" y2="31.80" stroke="#1a1a1a" stroke-width="1.5"/>
<line x1="494.51" y1="28.5" x2="494.51" y2="31.80" stroke="#1a1a1a" stroke-width="1.5"/>
<line x1="518.86" y1="28.5" x2="518.86" y2="31.80" stroke="#1a1a1a" stroke-width="1.5"/>
<line x1="543.22" y1="28.5" x2="543.22" y2="34.80" stroke="#1a1a1a" stroke-width="1.5"/>
<line x1="567.58" y1="28.5" x2="567.58" y2="31.80" stroke="#1a1a1a" stroke-width="1.5"/>
<line x1="591.93" y1="28.5" x2="591.93" y2="31.80" stroke="#1a1a1a" stroke-width="1.5"/>
<line x1="616.29" y1="28.5" x2="616.29" y2="31.80" stroke="#1a1a1a" stroke-width="1.5"/>
<line x1="640.64" y1="28.5" x2="640.64" y2="31.80" stroke="#1a1a1a" stroke-width="1.5"/>
<line x1="56.10" y1="576.8" x2="56.10" y2="587.4" stroke="#333" stroke-width="1.5"/>
<g transform="translate(0 607.60) scale(1 1.030) translate(0 -607.60)">
<text x="39.42" y="607.60" class="t" style="font-size:20.0px">300</text>
</g>
<line x1="177.88" y1="576.8" x2="177.88" y2="587.4" stroke="#333" stroke-width="1.5"/>
<g transform="translate(0 607.60) scale(1 1.030) translate(0 -607.60)">
<text x="161.20" y="607.60" class="t" style="font-size:20.0px">400</text>
</g>
<line x1="299.66" y1="576.8" x2="299.66" y2="587.4" stroke="#333" stroke-width="1.5"/>
<g transform="translate(0 607.60) scale(1 1.030) translate(0 -607.60)">
<text x="282.98" y="607.60" class="t" style="font-size:20.0px">500</text>
</g>
<line x1="421.44" y1="576.8" x2="421.44" y2="587.4" stroke="#333" stroke-width="1.5"/>
<g transform="translate(0 607.60) scale(1 1.030) translate(0 -607.60)">
<text x="404.76" y="607.60" class="t" style="font-size:20.0px">600</text>
</g>
<line x1="543.22" y1="576.8" x2="543.22" y2="587.4" stroke="#333" stroke-width="1.5"/>
<g transform="translate(0 607.60) scale(1 1.030) translate(0 -607.60)">
<text x="526.54" y="607.60" class="t" style="font-size:20.0px">700</text>
</g>
<line x1="31.9" y1="290.8" x2="46.9" y2="290.8" stroke="#1a1a1a" stroke-width="1.6"/>
<line x1="634.1" y1="286.9" x2="650.9" y2="286.9" stroke="#1a1a1a" stroke-width="1.7"/>
<line x1="262.00" y1="253.30" x2="284.70" y2="253.30" stroke="#000" stroke-width="1.6"/>
<path d="M253.50 253.30L264.10 249.10L261.60 253.30L264.10 257.50Z" fill="#000"/>
<line x1="471.90" y1="250.40" x2="500.00" y2="250.40" stroke="#000" stroke-width="1.6"/>
<path d="M508.80 250.40L498.40 246.15L500.60 250.40L498.40 254.65Z" fill="#000"/>
<line x1="264.00" y1="529.50" x2="286.10" y2="529.50" stroke="#000" stroke-width="1.6"/>
<path d="M255.30 529.50L265.80 525.40L263.30 529.50L265.80 533.60Z" fill="#000"/>
<line x1="447.90" y1="532.40" x2="476.00" y2="532.40" stroke="#000" stroke-width="1.6"/>
<path d="M484.80 532.40L474.40 527.95L476.40 532.40L474.40 536.85Z" fill="#000"/>
<text x="297" y="102.2" text-anchor="middle" class="b">2-Eu</text>
<text x="297" y="365.5" text-anchor="middle" class="b">3-Yb</text>
<text x="371" y="541.7" text-anchor="middle" class="t" style="fill:#ff0000">×5</text>
<text x="335.7" y="639.8" text-anchor="middle" class="t" style="font-size:19.8px">Wavelength (nm)</text>
<text transform="translate(14.7 314.1) rotate(-90)" text-anchor="middle" class="t">Normalized PLE intensity</text>
<text transform="translate(680.7 314.85) rotate(-90)" text-anchor="middle" class="t">PL intensity (a.u.)</text>
<text x="143.1 155.7 161.1 173.9 179.3" y="14.1" class="t"><tspan font-style="italic">T</tspan>(K):</text>
<line x1="200.90" y1="6.95" x2="219.50" y2="6.95" stroke="#3838ff" stroke-width="2" stroke-linecap="round"/>
<g transform="translate(0 14.30) scale(1 1.030) translate(0 -14.30)">
<text x="226.00" y="14.30" class="t" style="font-size:20.0px">5</text>
</g>
<line x1="250.90" y1="6.95" x2="269.10" y2="6.95" stroke="#38ffff" stroke-width="2" stroke-linecap="round"/>
<g transform="translate(0 14.30) scale(1 1.030) translate(0 -14.30)">
<path d="M625 0H820V1380H650C560 1300 420 1200 225 1180V1025C380 1030 520 1060 625 1105Z" transform="translate(276.00 14.30) scale(0.009766 -0.009766)" fill="#000"/>
<text x="287.12" y="14.30" class="t" style="font-size:20.0px">00</text>
</g>
<line x1="326.10" y1="6.95" x2="344.80" y2="6.95" stroke="#9c9c38" stroke-width="2" stroke-linecap="round"/>
<g transform="translate(0 14.30) scale(1 1.030) translate(0 -14.30)">
<path d="M625 0H820V1380H650C560 1300 420 1200 225 1180V1025C380 1030 520 1060 625 1105Z" transform="translate(351.00 14.30) scale(0.009766 -0.009766)" fill="#000"/>
<text x="362.12" y="14.30" class="t" style="font-size:20.0px">50</text>
</g>
<line x1="396.70" y1="6.95" x2="415.40" y2="6.95" stroke="#ff38ff" stroke-width="2" stroke-linecap="round"/>
<g transform="translate(0 14.30) scale(1 1.030) translate(0 -14.30)">
<text x="421.00" y="14.30" class="t" style="font-size:20.0px">200</text>
</g>
<line x1="474.90" y1="6.95" x2="496.00" y2="6.95" stroke="#ff3838" stroke-width="2" stroke-linecap="round"/>
<g transform="translate(0 14.30) scale(1 1.030) translate(0 -14.30)">
<text x="502.00" y="14.30" class="t" style="font-size:20.0px">295</text>
</g>
<path d="M466.60 54.40V161.60H621.80" fill="none" stroke="#000" stroke-width="1.5"/>
<line x1="463.10" y1="56.90" x2="466.60" y2="56.90" stroke="#000" stroke-width="1.5"/>
<line x1="463.10" y1="161.60" x2="466.60" y2="161.60" stroke="#000" stroke-width="1.5"/>
<line x1="517.60" y1="161.60" x2="517.60" y2="165.60" stroke="#000" stroke-width="1.5"/>
<g transform="translate(0 184.60) scale(1 1.030) translate(0 -184.60)">
<path d="M625 0H820V1380H650C560 1300 420 1200 225 1180V1025C380 1030 520 1060 625 1105Z" transform="translate(500.92 184.60) scale(0.009766 -0.009766)" fill="#000"/>
<text x="512.04" y="184.60" class="t" style="font-size:20.0px">00</text>
</g>
<line x1="569.40" y1="161.60" x2="569.40" y2="165.60" stroke="#000" stroke-width="1.5"/>
<g transform="translate(0 184.60) scale(1 1.030) translate(0 -184.60)">
<text x="552.72" y="184.60" class="t" style="font-size:20.0px">200</text>
</g>
<line x1="621.20" y1="161.60" x2="621.20" y2="165.60" stroke="#000" stroke-width="1.5"/>
<g transform="translate(0 184.60) scale(1 1.030) translate(0 -184.60)">
<text x="604.52" y="184.60" class="t" style="font-size:20.0px">300</text>
</g>
<g transform="translate(0 62.80) scale(1 1.030) translate(0 -62.80)">
<path d="M625 0H820V1380H650C560 1300 420 1200 225 1180V1025C380 1030 520 1060 625 1105Z" transform="translate(449.40 62.80) scale(0.009766 -0.009766)" fill="#000"/>
</g>
<g transform="translate(0 168.60) scale(1 1.030) translate(0 -168.60)">
<text x="447.70" y="168.60" class="t" style="font-size:20.0px">0</text>
</g>
<line x1="482.08" y1="60.17" x2="486.08" y2="61.53" stroke="#000" stroke-width="1.4"/>
<line x1="497.86" y1="64.57" x2="511.74" y2="67.03" stroke="#000" stroke-width="1.4"/>
<line x1="523.33" y1="70.56" x2="538.07" y2="77.04" stroke="#000" stroke-width="1.4"/>
<line x1="549.14" y1="82.17" x2="564.06" y2="89.43" stroke="#000" stroke-width="1.4"/>
<line x1="575.50" y1="93.45" x2="589.50" y2="96.65" stroke="#000" stroke-width="1.4"/>
<line x1="601.04" y1="100.45" x2="613.17" y2="105.75" stroke="#000" stroke-width="1.4"/>
<circle cx="468.54" cy="56.80" r="4.55" fill="#000"/>
<circle cx="476.31" cy="58.20" r="4.55" fill="#000"/>
<circle cx="491.85" cy="63.50" r="4.55" fill="#000"/>
<circle cx="517.75" cy="68.10" r="4.55" fill="#000"/>
<circle cx="543.65" cy="79.50" r="4.55" fill="#000"/>
<circle cx="569.55" cy="92.10" r="4.55" fill="#000"/>
<circle cx="595.45" cy="98.00" r="4.55" fill="#000"/>
<circle cx="618.76" cy="108.20" r="4.55" fill="#000"/>
<text x="471.50" y="140.80" class="s">PL area versus <tspan font-style="italic" dx="-0.9">T</tspan><tspan dx="-0.5">(</tspan><tspan dx="-0.9">K</tspan><tspan dx="-0.4">)</tspan></text>
<path d="M461.60 343.60V450.80H617.20" fill="none" stroke="#000" stroke-width="1.5"/>
<line x1="458.10" y1="346.10" x2="461.60" y2="346.10" stroke="#000" stroke-width="1.5"/>
<line x1="458.10" y1="450.80" x2="461.60" y2="450.80" stroke="#000" stroke-width="1.5"/>
<line x1="513.10" y1="450.80" x2="513.10" y2="454.80" stroke="#000" stroke-width="1.5"/>
<g transform="translate(0 473.00) scale(1 1.030) translate(0 -473.00)">
<path d="M625 0H820V1380H650C560 1300 420 1200 225 1180V1025C380 1030 520 1060 625 1105Z" transform="translate(496.42 473.00) scale(0.009766 -0.009766)" fill="#000"/>
<text x="507.54" y="473.00" class="t" style="font-size:20.0px">00</text>
</g>
<line x1="564.90" y1="450.80" x2="564.90" y2="454.80" stroke="#000" stroke-width="1.5"/>
<g transform="translate(0 473.00) scale(1 1.030) translate(0 -473.00)">
<text x="548.22" y="473.00" class="t" style="font-size:20.0px">200</text>
</g>
<line x1="616.70" y1="450.80" x2="616.70" y2="454.80" stroke="#000" stroke-width="1.5"/>
<g transform="translate(0 473.00) scale(1 1.030) translate(0 -473.00)">
<text x="600.02" y="473.00" class="t" style="font-size:20.0px">300</text>
</g>
<g transform="translate(0 351.40) scale(1 1.030) translate(0 -351.40)">
<path d="M625 0H820V1380H650C560 1300 420 1200 225 1180V1025C380 1030 520 1060 625 1105Z" transform="translate(444.60 351.40) scale(0.009766 -0.009766)" fill="#000"/>
</g>
<g transform="translate(0 459.30) scale(1 1.030) translate(0 -459.30)">
<text x="441.00" y="459.30" class="t" style="font-size:20.0px">0</text>
</g>
<line x1="466.04" y1="351.69" x2="468.91" y2="358.21" stroke="#000" stroke-width="1.4"/>
<line x1="477.42" y1="364.50" x2="480.84" y2="364.90" stroke="#000" stroke-width="1.4"/>
<line x1="492.79" y1="367.17" x2="506.91" y2="370.93" stroke="#000" stroke-width="1.4"/>
<line x1="518.17" y1="375.40" x2="533.33" y2="383.60" stroke="#000" stroke-width="1.4"/>
<line x1="543.04" y1="390.79" x2="560.26" y2="407.81" stroke="#000" stroke-width="1.4"/>
<line x1="569.38" y1="415.89" x2="585.72" y2="428.81" stroke="#000" stroke-width="1.4"/>
<line x1="595.68" y1="435.82" x2="608.63" y2="443.88" stroke="#000" stroke-width="1.4"/>
<circle cx="463.59" cy="346.10" r="4.55" fill="#000"/>
<circle cx="471.36" cy="363.80" r="4.55" fill="#000"/>
<circle cx="486.90" cy="365.60" r="4.55" fill="#000"/>
<circle cx="512.80" cy="372.50" r="4.55" fill="#000"/>
<circle cx="538.70" cy="386.50" r="4.55" fill="#000"/>
<circle cx="564.60" cy="412.10" r="4.55" fill="#000"/>
<circle cx="590.50" cy="432.60" r="4.55" fill="#000"/>
<circle cx="613.81" cy="447.10" r="4.55" fill="#000"/>
<text x="541.30" y="348.60" class="s">PL area</text>
<text x="542.00" y="372.60" class="s">versus <tspan font-style="italic" dx="-0.9">T</tspan>(<tspan dx="-2.1">K</tspan><tspan dx="0.6">)</tspan></text>
</svg>
</body></html>
